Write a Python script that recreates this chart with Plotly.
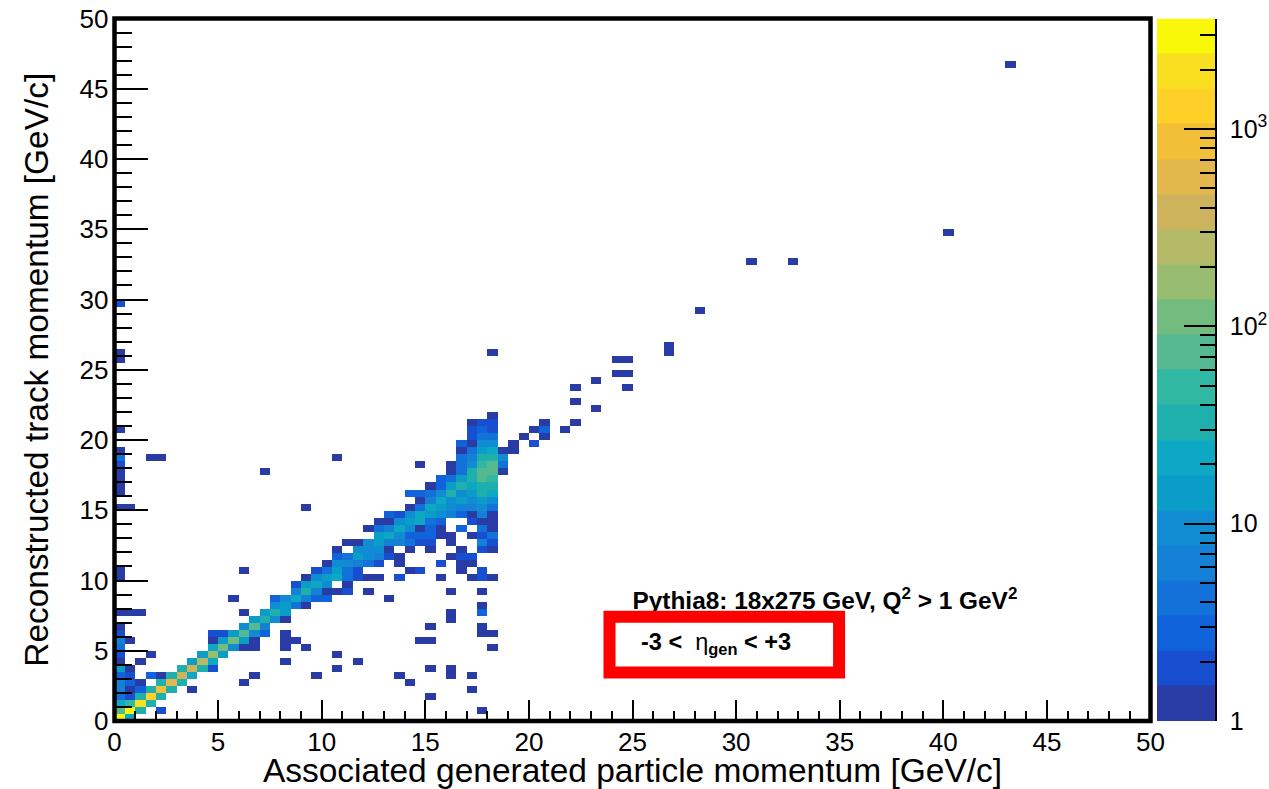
import math
import plotly.graph_objects as go

# Histogram binning: 100 x 100 bins over 0-50 GeV/c
n_bins = 100
bin_width = 0.5
z_max_log = 3.56

# Palette, bottom band to top band
band_colors = ["#293ca5", "#174fd0", "#1163dc", "#1272d9", "#1480d6", "#108cd2", "#0a9dc8",
               "#0ca8c4", "#1fb0ae", "#30b8a2", "#54b890", "#72bc80", "#98bc70", "#b4ba68",
               "#cdb45c", "#e2b84c", "#f2c038", "#ffd028", "#f8e020", "#f8f808"]

# Estimated bin contents, one dict per reconstructed-momentum row: {column: count}
r00 = {0: 3000, 1: 22}
r01 = {0: 75, 1: 3000, 2: 33, 4: 2, 35: 1}
r02 = {0: 22, 1: 50, 2: 2000, 3: 33}
r03 = {0: 4, 1: 2, 2: 33, 3: 1330, 4: 33, 30: 1}
r04 = {0: 6, 1: 1, 2: 3, 3: 33, 4: 880, 5: 33, 7: 1, 34: 1}
r05 = {0: 6, 1: 3, 2: 1, 4: 33, 5: 590, 6: 33, 12: 1, 28: 1}
r06 = {0: 3, 1: 2, 3: 3, 4: 1, 5: 33, 6: 390, 7: 22, 13: 1, 19: 1, 27: 1, 32: 1, 34: 1}
r07 = {0: 14, 1: 1, 6: 33, 7: 390, 8: 33, 9: 2, 21: 1, 30: 1, 32: 1}
r08 = {0: 1, 2: 1, 7: 14, 8: 260, 9: 22, 16: 1, 23: 1}
r09 = {0: 2, 3: 1, 8: 14, 9: 170, 10: 14, 21: 1}
r10 = {0: 4, 9: 22, 10: 115, 11: 10, 12: 1, 13: 1, 16: 1, 18: 1, 36: 1}
r11 = {0: 6, 1: 1, 9: 1, 10: 14, 11: 115, 12: 14, 13: 1, 16: 1, 17: 1, 29: 1, 30: 1}
r12 = {0: 2, 9: 2, 10: 2, 11: 14, 12: 75, 13: 10, 14: 3, 16: 1, 35: 1, 36: 1}
r13 = {0: 1, 12: 10, 13: 75, 14: 6, 30: 1, 35: 1}
r14 = {13: 14, 14: 33, 15: 10, 16: 1, 32: 1}
r15 = {0: 1, 1: 1, 2: 1, 12: 1, 14: 14, 15: 33, 16: 14, 32: 1, 35: 3}
r16 = {15: 10, 16: 14, 17: 4, 18: 1, 35: 1}
r17 = {11: 1, 15: 3, 16: 10, 17: 22, 18: 6, 19: 3, 20: 3, 26: 1}
r18 = {17: 6, 18: 33, 19: 6, 20: 1, 21: 1, 22: 2, 24: 1, 32: 1, 35: 1}
r19 = {17: 2, 18: 14, 19: 22, 20: 10, 22: 1}
r20 = {0: 1, 18: 1, 19: 10, 20: 14, 21: 22, 22: 4, 23: 2, 24: 1, 25: 1, 27: 2, 31: 1, 34: 1, 35: 2, 36: 1}
r21 = {0: 1, 12: 1, 19: 2, 20: 4, 21: 14, 22: 4, 23: 2, 28: 1, 29: 2, 33: 1, 35: 2}
r22 = {20: 1, 21: 10, 22: 10, 23: 6, 24: 4, 25: 2, 27: 1, 31: 2, 33: 1, 34: 1}
r23 = {21: 3, 22: 4, 23: 14, 24: 10, 25: 6, 26: 2, 27: 1, 32: 1, 33: 2, 34: 2}
r24 = {21: 1, 23: 10, 24: 10, 25: 10, 26: 1, 28: 1, 30: 1, 33: 1, 35: 2, 36: 1}
r25 = {22: 1, 23: 1, 24: 10, 25: 14, 26: 6, 27: 6, 28: 4, 29: 2, 30: 2, 32: 1, 35: 6, 36: 2}
r26 = {25: 14, 26: 22, 27: 10, 28: 3, 29: 3, 30: 3, 31: 1, 32: 1, 34: 1, 35: 2, 36: 4}
r27 = {24: 1, 25: 4, 26: 6, 27: 22, 28: 10, 29: 1, 30: 3, 31: 1, 33: 3, 35: 4, 36: 1}
r28 = {25: 1, 26: 1, 27: 10, 28: 14, 29: 22, 30: 4, 31: 3, 34: 2, 35: 1, 36: 1}
r29 = {26: 3, 27: 2, 28: 10, 29: 22, 30: 14, 31: 10, 32: 6, 33: 3, 34: 1, 35: 6, 36: 1}
r30 = {0: 1, 1: 1, 18: 1, 28: 1, 29: 4, 30: 22, 31: 14, 32: 10, 33: 6, 34: 6, 35: 10, 36: 4}
r31 = {29: 1, 30: 6, 31: 22, 32: 10, 33: 14, 34: 10, 35: 14, 36: 10}
r32 = {0: 1, 28: 3, 29: 3, 30: 4, 31: 10, 32: 33, 33: 10, 34: 14, 35: 33, 36: 22}
r33 = {0: 1, 30: 1, 31: 3, 32: 14, 33: 33, 34: 22, 35: 33, 36: 33}
r34 = {0: 1, 31: 3, 32: 4, 33: 14, 34: 33, 35: 75, 36: 50}
r35 = {0: 1, 14: 1, 32: 1, 33: 4, 34: 33, 35: 75, 36: 75, 37: 1}
r36 = {0: 2, 29: 1, 32: 1, 33: 4, 34: 10, 35: 50, 36: 75, 37: 4}
r37 = {0: 4, 3: 1, 4: 1, 21: 1, 33: 4, 34: 6, 35: 33, 36: 33, 37: 10}
r38 = {0: 1, 33: 1, 34: 4, 35: 14, 36: 22, 37: 1, 38: 1}
r39 = {33: 3, 34: 1, 35: 10, 36: 10, 38: 1, 40: 2}
r40 = {34: 2, 35: 4, 36: 4, 39: 1, 41: 1}
r41 = {0: 1, 34: 2, 35: 3, 36: 2, 40: 1, 41: 3, 43: 1}
r42 = {34: 1, 35: 2, 36: 2, 41: 1, 44: 1}
r43 = {36: 1}
r44 = {46: 1}
r45 = {44: 1}
r47 = {44: 1, 49: 1}
r48 = {46: 1}
r49 = {48: 1, 49: 1}
r51 = {0: 1, 48: 1, 49: 1}
r52 = {0: 1, 36: 1, 53: 1}
r53 = {53: 1}
r58 = {56: 1}
r59 = {0: 2}
r65 = {61: 1, 65: 1}
r69 = {80: 1}
r93 = {86: 1}

rows = {0: r00, 1: r01, 2: r02, 3: r03, 4: r04, 5: r05, 6: r06, 7: r07, 8: r08, 9: r09,
        10: r10, 11: r11, 12: r12, 13: r13, 14: r14, 15: r15, 16: r16, 17: r17, 18: r18,
        19: r19, 20: r20, 21: r21, 22: r22, 23: r23, 24: r24, 25: r25, 26: r26, 27: r27,
        28: r28, 29: r29, 30: r30, 31: r31, 32: r32, 33: r33, 34: r34, 35: r35, 36: r36,
        37: r37, 38: r38, 39: r39, 40: r40, 41: r41, 42: r42, 43: r43, 44: r44, 45: r45,
        47: r47, 48: r48, 49: r49, 51: r51, 52: r52, 53: r53, 58: r58, 59: r59, 65: r65,
        69: r69, 93: r93}

x_title = "Associated generated particle momentum [GeV/c]"
y_title = "Reconstructed track momentum [GeV/c]"
note_top = "<b>Pythia8: 18x275 GeV, Q<sup>2</sup> &gt; 1 GeV<sup>2</sup></b>"
note_box = "<b>-3 &lt; </b>\u00a0η<sub><b>gen</b></sub><b> &lt; +3</b>"

W, H = 1269, 789
FONT = "Liberation Sans, Arial, sans-serif"
n_bands = len(band_colors)

z = [[None] * n_bins for _ in range(n_bins)]
for j, row in rows.items():
    for i, count in row.items():
        z[j][i] = math.log10(count)

scale = []
for k, c in enumerate(band_colors):
    scale += [[k / n_bands, c], [(k + 1) / n_bands, c]]

fig = go.Figure()
fig.add_trace(go.Heatmap(z=z, x0=bin_width / 2, dx=bin_width, y0=bin_width / 2, dy=bin_width,
                         zmin=0, zmax=z_max_log, colorscale=scale, showscale=False,
                         hoverongaps=False, xaxis="x", yaxis="y"))
fig.add_trace(go.Scatter(x=[25.0], y=[8.4], mode="text", text=[note_top], textposition="middle right",
                         textfont=dict(family=FONT, size=24.4, color="black"), showlegend=False,
                         hoverinfo="skip", xaxis="x", yaxis="y"))

# Palette strip as its own log axis, so it can carry long and short ticks
edges = [10 ** (z_max_log * k / n_bands) for k in range(n_bands + 1)]
fig.add_trace(go.Heatmap(z=[[(k + 0.5) * z_max_log / n_bands] for k in range(n_bands)],
                         x=[0, 1], y=edges, zmin=0, zmax=z_max_log, colorscale=scale,
                         showscale=False, xaxis="x2", yaxis="y2"))

x0_px, x1_px, ytop_px, ybot_px = 114.5, 1150.5, 18.5, 721
x_dom = [x0_px / W, x1_px / W]
y_dom = [(H - ybot_px) / H, (H - ytop_px) / H]
minor_vals = [m * d for d in (1, 10, 100, 1000) for m in range(2, 10) if m * d < 10 ** z_max_log]

fig.update_layout(
    width=W, height=H, margin=dict(l=0, r=0, t=0, b=0), paper_bgcolor="white", plot_bgcolor="white",
    showlegend=False, font=dict(family=FONT, color="black"),
    xaxis=dict(domain=x_dom, range=[0, 50], anchor="y", dtick=5, tick0=0, ticks="inside", ticklen=21, automargin=False,
               tickwidth=2, tickcolor="black", showgrid=False, zeroline=False, showline=False,
               tickfont=dict(size=26), ticklabelstandoff=3,
               minor=dict(dtick=1, tick0=0, ticks="inside", ticklen=10, tickwidth=2, tickcolor="black", showgrid=False),
               title=dict(text=x_title, font=dict(size=33.5), standoff=7)),
    yaxis=dict(domain=y_dom, range=[0, 50], anchor="x", dtick=5, tick0=0, ticks="inside", ticklen=33, automargin=False,
               tickwidth=2, tickcolor="black", showgrid=False, zeroline=False, showline=False,
               tickfont=dict(size=26), ticklabelstandoff=5,
               minor=dict(dtick=1, tick0=0, ticks="inside", ticklen=17, tickwidth=2, tickcolor="black", showgrid=False),
               title=dict(text=y_title, font=dict(size=33.4), standoff=20)),
    xaxis2=dict(domain=[1157 / W, 1215 / W], range=[0, 1], anchor="y2", visible=False, automargin=False),
    yaxis2=dict(domain=y_dom, type="log", range=[0, z_max_log], anchor="x2", side="right", automargin=False,
                tickmode="array", tickvals=[1, 10, 100, 1000],
                ticktext=["1", "10", "10<sup>2</sup>", "10<sup>3</sup>"],
                ticks="inside", ticklen=31, tickwidth=1.5, tickcolor="black", tickfont=dict(size=25),
                ticklabelstandoff=8, showgrid=False, zeroline=False, showline=True, linecolor="black", linewidth=1.5,
                minor=dict(tickmode="array", tickvals=minor_vals, ticks="inside", ticklen=15, tickwidth=1.5,
                           tickcolor="black", showgrid=False)),
    shapes=[dict(type="rect", xref="paper", yref="paper", x0=x_dom[0], x1=x_dom[1], y0=y_dom[0], y1=y_dom[1],
                 line=dict(color="black", width=4.5), fillcolor="rgba(0,0,0,0)", layer="above"),
            dict(type="rect", xref="x", yref="y", x0=23.89, x1=34.97, y0=3.45, y1=7.42,
                 line=dict(color="#ff0000", width=12), fillcolor="rgba(0,0,0,0)", layer="above")],
    annotations=[dict(text=note_box, xref="x", yref="y", x=25.3, y=5.5, xanchor="left", yanchor="middle",
                      showarrow=False, font=dict(family=FONT, size=23.5, color="black"))],
)

fig.write_html("out.html", config=dict(displayModeBar=False),
               post_script="document.body.style.margin='0';document.body.style.overflow='hidden';")
